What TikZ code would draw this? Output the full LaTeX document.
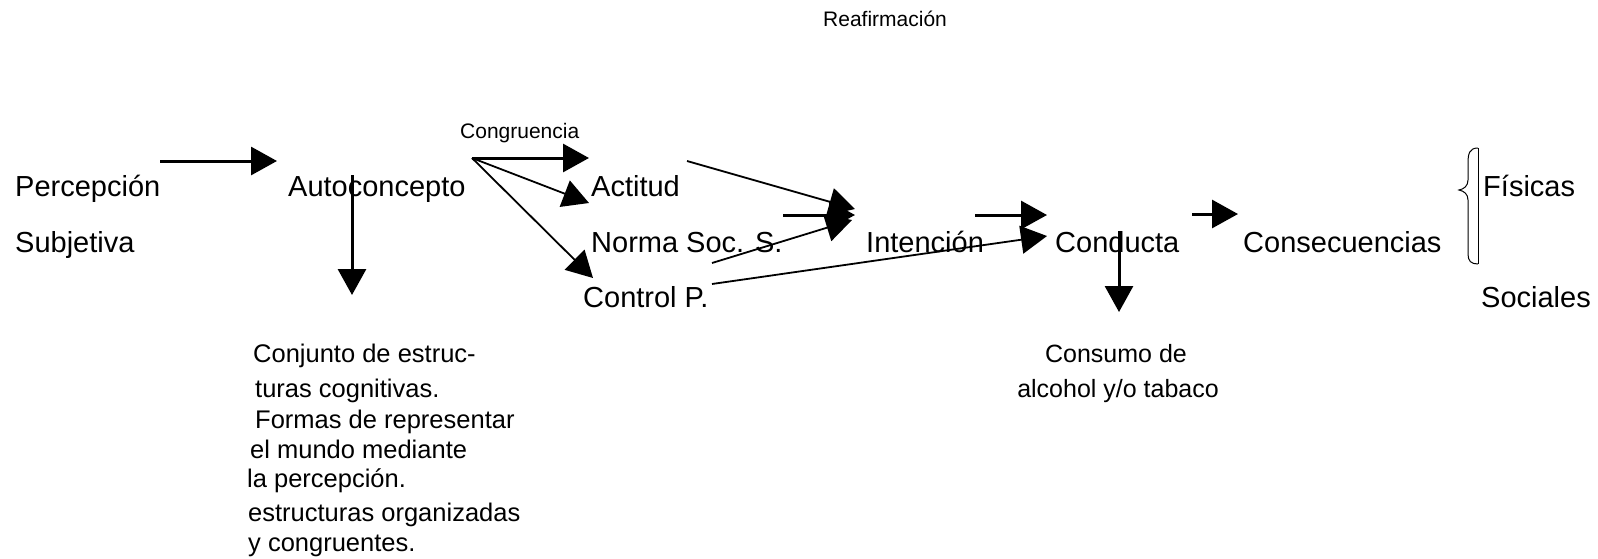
\documentclass[tikz,border=0pt]{standalone}
\usepackage{fontspec}
\setmainfont{Liberation Sans}
\usetikzlibrary{arrows.meta}
\begin{document}
\begin{tikzpicture}[x=1pt,y=-1pt,
  lbl/.style={anchor=base west, inner sep=0pt, font=\fontsize{29}{35}\selectfont},
  small/.style={anchor=base west, inner sep=0pt, font=\fontsize{21}{25}\selectfont},
  note/.style={anchor=base west, inner sep=0pt, font=\fontsize{25.5}{31}\selectfont},
  notec/.style={anchor=base, inner sep=0pt, font=\fontsize{25}{30}\selectfont},
  flow/.style={-{Triangle[length=26pt,width=28pt]}, line width=3pt},
  slant/.style={-{Triangle[length=26pt,width=28pt]}, line width=1.8pt},
]
\useasboundingbox (0,0) rectangle (1598,558);

% labels
\node[small] (reaf)  at (823,26.5) {Reafirmación};
\node[small] (congr) at (460,138)  {Congruencia};
\node[lbl] (perc)  at (15,196)   {Percepción};
\node[lbl] (subj)  at (15,252)   {Subjetiva};
\node[lbl] (auto)  at (288,196)  {Autoconcepto};
\node[lbl] (act)   at (591,196)  {Actitud};
\node[lbl] (norma) at (591,252)  {Norma Soc. S.};
\node[lbl] (ctrl)  at (583,307)  {Control P.};
\node[lbl] (int)   at (866,252)  {Intención};
\node[lbl] (cond)  at (1055,252) {Conducta};
\node[lbl] (cons)  at (1243,252) {Consecuencias};
\node[lbl] (fis)   at (1483,196) {Físicas};
\node[lbl] (soc)   at (1481,307) {Sociales};

% description of the self-concept
\node[note] (d1) at (253,362) {Conjunto de estruc-};
\node[note] (d2) at (255,397) {turas cognitivas.};
\node[note] (d3) at (255,428) {Formas de representar};
\node[note] (d4) at (250,458) {el mundo mediante};
\node[note] (d5) at (247,487) {la percepción.};
\node[note] (d6) at (248,521) {estructuras organizadas};
\node[note] (d7) at (248,551) {y congruentes.};

% behaviour outcome
\node[notec] (c1) at (1116,362) {Consumo de};
\node[notec] (c2) at (1118,397) {alcohol y/o tabaco};

% arrow end points
\coordinate (percOut)  at (160,161);
\coordinate (autoIn)   at (277,161);
\coordinate (autoDown) at (352,175);
\coordinate (autoNote) at (352,295);
\coordinate (fan)      at (472,158);
\coordinate (actIn)    at (589,158);
\coordinate (normaIn)  at (589,203);
\coordinate (ctrlIn)   at (593,278);
\coordinate (actOut)   at (687,161);
\coordinate (normaOut) at (783,215);
\coordinate (ctrlOutA) at (712,263);
\coordinate (ctrlOutB) at (712,284);
\coordinate (intInA)   at (855,209);
\coordinate (intInB)   at (855,215);
\coordinate (intInC)   at (852,220);
\coordinate (intOut)   at (975,215);
\coordinate (condInA)  at (1047,215);
\coordinate (condInB)  at (1047,236);
\coordinate (condDown) at (1119,231);
\coordinate (condNote) at (1119,312);
\coordinate (condOut)  at (1192,214);
\coordinate (consIn)   at (1238,214);

% connectors
\draw[flow]  (percOut) -- (autoIn);
\draw[flow]  (autoDown) -- (autoNote);
\draw[flow]  (fan) -- (actIn);
\draw[slant] (fan) -- (normaIn);
\draw[slant] (fan) -- (ctrlIn);
\draw[slant] (actOut) -- (intInA);
\draw[flow]  (normaOut) -- (intInB);
\draw[slant] (ctrlOutA) -- (intInC);
\draw[slant] (ctrlOutB) -- (condInB);
\draw[flow]  (intOut) -- (condInA);
\draw[flow]  (condDown) -- (condNote);
\draw[flow]  (condOut) -- (consIn);

% brace grouping the consequences
\draw[line width=1pt] (1478,148) .. controls (1469,148) and (1468,154) .. (1468,164)
  -- (1468,180) .. controls (1468,186) and (1464,189) .. (1459,190)
  .. controls (1464,191) and (1468,194) .. (1468,200)
  -- (1468,254) .. controls (1468,261) and (1471,264) .. (1478,264);
\draw[line width=1pt] (1478,148) -- (1478,264);
\end{tikzpicture}
\end{document}
